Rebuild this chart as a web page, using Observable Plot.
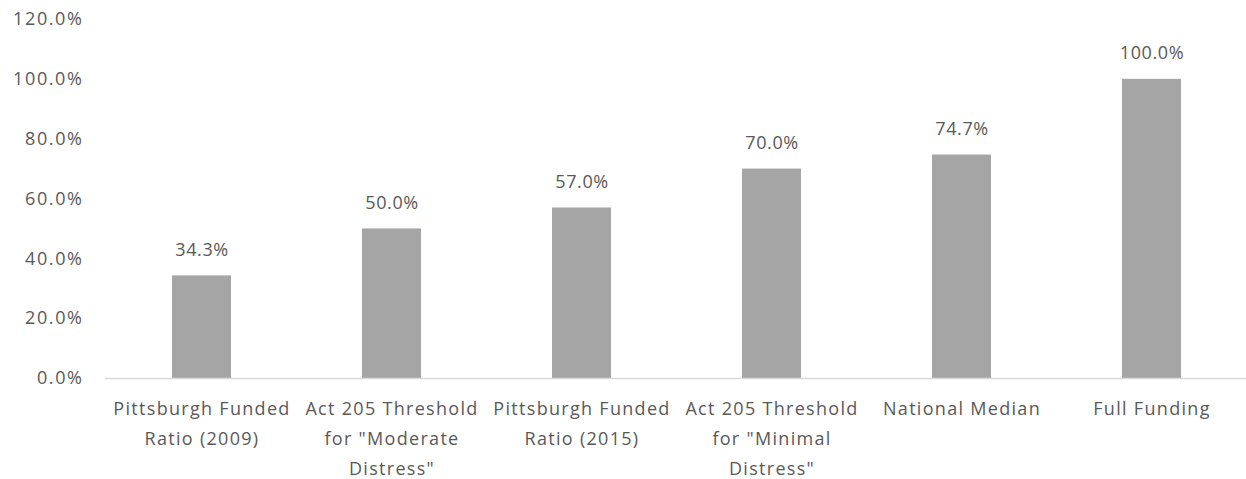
<!DOCTYPE html>
<html>
<head>
<meta charset="utf-8">
<script src="https://cdn.jsdelivr.net/npm/d3@7"></script>
<script src="https://cdn.jsdelivr.net/npm/@observablehq/plot@0.6"></script>
<style>
  html, body { margin: 0; padding: 0; background: #fff; }
  #chart svg { display: block; }
</style>
</head>
<body>
<div id="chart"></div>
<script>
const categories = [
  "Pittsburgh Funded\nRatio (2009)",
  "Act 205 Threshold\nfor \"Moderate\nDistress\"",
  "Pittsburgh Funded\nRatio (2015)",
  "Act 205 Threshold\nfor \"Minimal\nDistress\"",
  "National Median",
  "Full Funding"
];
const values = [34.3, 50.0, 57.0, 70.0, 74.7, 100.0];
const yTicks = [0, 20, 40, 60, 80, 100, 120];

const data = categories.map((c, i) => ({category: c, value: values[i]}));
const fmt = v => v.toFixed(1) + "%";

const chart = Plot.plot({
  width: 1246,
  height: 479,
  marginTop: 19,
  marginBottom: 101,
  marginLeft: 105,
  marginRight: -3,
  style: {fontFamily: "'Open Sans', sans-serif", fontSize: "18px", color: "#595959", background: "#fff"},
  x: {domain: categories, paddingInner: 0.688, paddingOuter: 0.344},
  y: {domain: [0, 120]},
  marks: [
    Plot.barY(data, {x: "category", y: "value", fill: "#a5a5a5"}),
    Plot.ruleY([0], {stroke: "#d9d9d9", strokeWidth: 1.5}),
    Plot.axisY({ticks: yTicks, tickFormat: fmt, tickSize: 0, tickPadding: 22, label: null, fontSize: 18, fill: "#595959"}),
    Plot.axisX({tickSize: 0, tickPadding: 15, label: null, fontSize: 18, fill: "#595959", lineHeight: 1.67}),
    Plot.text(data, {x: "category", y: "value", text: d => fmt(d.value), dy: -26, fontSize: 18, fill: "#595959"})
  ]
});
document.getElementById("chart").appendChild(chart);
d3.select(chart).selectAll('g[aria-label="y-axis tick label"] text').style("letter-spacing", "1.6px");
d3.select(chart).selectAll('g[aria-label="x-axis tick label"] text').style("letter-spacing", "1.3px");
d3.select(chart).selectAll('g[aria-label="text"] text').style("letter-spacing", "0.6px");
</script>
</body>
</html>
